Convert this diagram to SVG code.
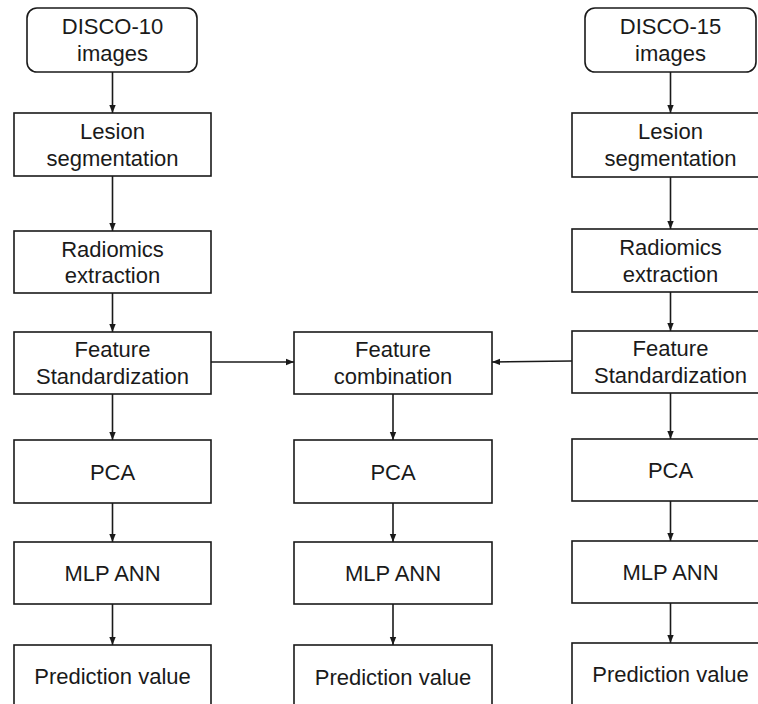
<svg xmlns="http://www.w3.org/2000/svg" width="758" height="704" viewBox="0 0 758 704">
<style>
.box{fill:#fff;stroke:#1a1a1a;stroke-width:1.6}
.t{font-family:"Liberation Sans",Arial,sans-serif;font-size:22px;fill:#1a1a1a;text-anchor:middle}
.c{stroke:#1a1a1a;stroke-width:1.6;fill:none;marker-end:url(#ah)}
</style>
<defs>
<marker id="ah" viewBox="0 0 10 10" refX="10" refY="5" markerWidth="8" markerHeight="8" markerUnits="userSpaceOnUse" orient="auto">
<path d="M0,1 L10,5 L0,9 z" fill="#1a1a1a"/>
</marker>
</defs>
<rect width="758" height="704" fill="#fff"/>
<g id="connectors">
<line class="c" x1="112.5" y1="72" x2="112.5" y2="113"/>
<line class="c" x1="112.5" y1="176" x2="112.5" y2="231"/>
<line class="c" x1="112.5" y1="293" x2="112.5" y2="332"/>
<line class="c" x1="112.5" y1="394" x2="112.5" y2="440"/>
<line class="c" x1="112.5" y1="503" x2="112.5" y2="542"/>
<line class="c" x1="112.5" y1="604" x2="112.5" y2="645"/>
<line class="c" x1="211" y1="362" x2="294" y2="362"/>
<line class="c" x1="572" y1="361" x2="492" y2="362"/>
<line class="c" x1="393" y1="394" x2="393" y2="440"/>
<line class="c" x1="393" y1="503" x2="393" y2="542"/>
<line class="c" x1="393" y1="604" x2="393" y2="645"/>
<line class="c" x1="670.5" y1="72" x2="670.5" y2="113"/>
<line class="c" x1="670.5" y1="177" x2="670.5" y2="229"/>
<line class="c" x1="670.5" y1="292" x2="670.5" y2="331"/>
<line class="c" x1="670.5" y1="393" x2="670.5" y2="439"/>
<line class="c" x1="670.5" y1="501" x2="670.5" y2="541"/>
<line class="c" x1="670.5" y1="603" x2="670.5" y2="643"/>
</g>
<g id="disco10"><rect class="box" x="27" y="8" width="170" height="64" rx="10"/><text class="t" x="112.5" y="34">DISCO-10</text><text class="t" x="112.5" y="61">images</text></g>
<g id="lesion-l"><rect class="box" x="14" y="113" width="197" height="63"/><text class="t" x="112.5" y="139">Lesion</text><text class="t" x="112.5" y="166">segmentation</text></g>
<g id="radiomics-l"><rect class="box" x="14" y="231" width="197" height="62"/><text class="t" x="112.5" y="257">Radiomics</text><text class="t" x="112.5" y="283">extraction</text></g>
<g id="featstd-l"><rect class="box" x="14" y="332" width="197" height="62"/><text class="t" x="112.5" y="357">Feature</text><text class="t" x="112.5" y="384">Standardization</text></g>
<g id="pca-l"><rect class="box" x="14" y="440" width="197" height="63"/><text class="t" x="112.5" y="480">PCA</text></g>
<g id="mlp-l"><rect class="box" x="14" y="542" width="197" height="62"/><text class="t" x="112.5" y="581">MLP ANN</text></g>
<g id="pred-l"><rect class="box" x="14" y="645" width="197" height="64"/><text class="t" x="112.5" y="684">Prediction value</text></g>
<g id="featcomb"><rect class="box" x="294" y="332" width="198" height="62"/><text class="t" x="393" y="357">Feature</text><text class="t" x="393" y="384">combination</text></g>
<g id="pca-m"><rect class="box" x="294" y="440" width="198" height="63"/><text class="t" x="393" y="480">PCA</text></g>
<g id="mlp-m"><rect class="box" x="294" y="542" width="198" height="62"/><text class="t" x="393" y="581">MLP ANN</text></g>
<g id="pred-m"><rect class="box" x="294" y="645" width="198" height="64"/><text class="t" x="393" y="685">Prediction value</text></g>
<g id="disco15"><rect class="box" x="585" y="8" width="171" height="64" rx="10"/><text class="t" x="670.5" y="34">DISCO-15</text><text class="t" x="670.5" y="61">images</text></g>
<g id="lesion-r"><rect class="box" x="572" y="113" width="197" height="64"/><text class="t" x="670.5" y="139">Lesion</text><text class="t" x="670.5" y="166">segmentation</text></g>
<g id="radiomics-r"><rect class="box" x="572" y="229" width="197" height="63"/><text class="t" x="670.5" y="255">Radiomics</text><text class="t" x="670.5" y="282">extraction</text></g>
<g id="featstd-r"><rect class="box" x="572" y="331" width="197" height="62"/><text class="t" x="670.5" y="356">Feature</text><text class="t" x="670.5" y="383">Standardization</text></g>
<g id="pca-r"><rect class="box" x="572" y="439" width="197" height="62"/><text class="t" x="670.5" y="478">PCA</text></g>
<g id="mlp-r"><rect class="box" x="572" y="541" width="197" height="62"/><text class="t" x="670.5" y="580">MLP ANN</text></g>
<g id="pred-r"><rect class="box" x="572" y="643" width="197" height="66"/><text class="t" x="670.5" y="682">Prediction value</text></g>
</svg>
